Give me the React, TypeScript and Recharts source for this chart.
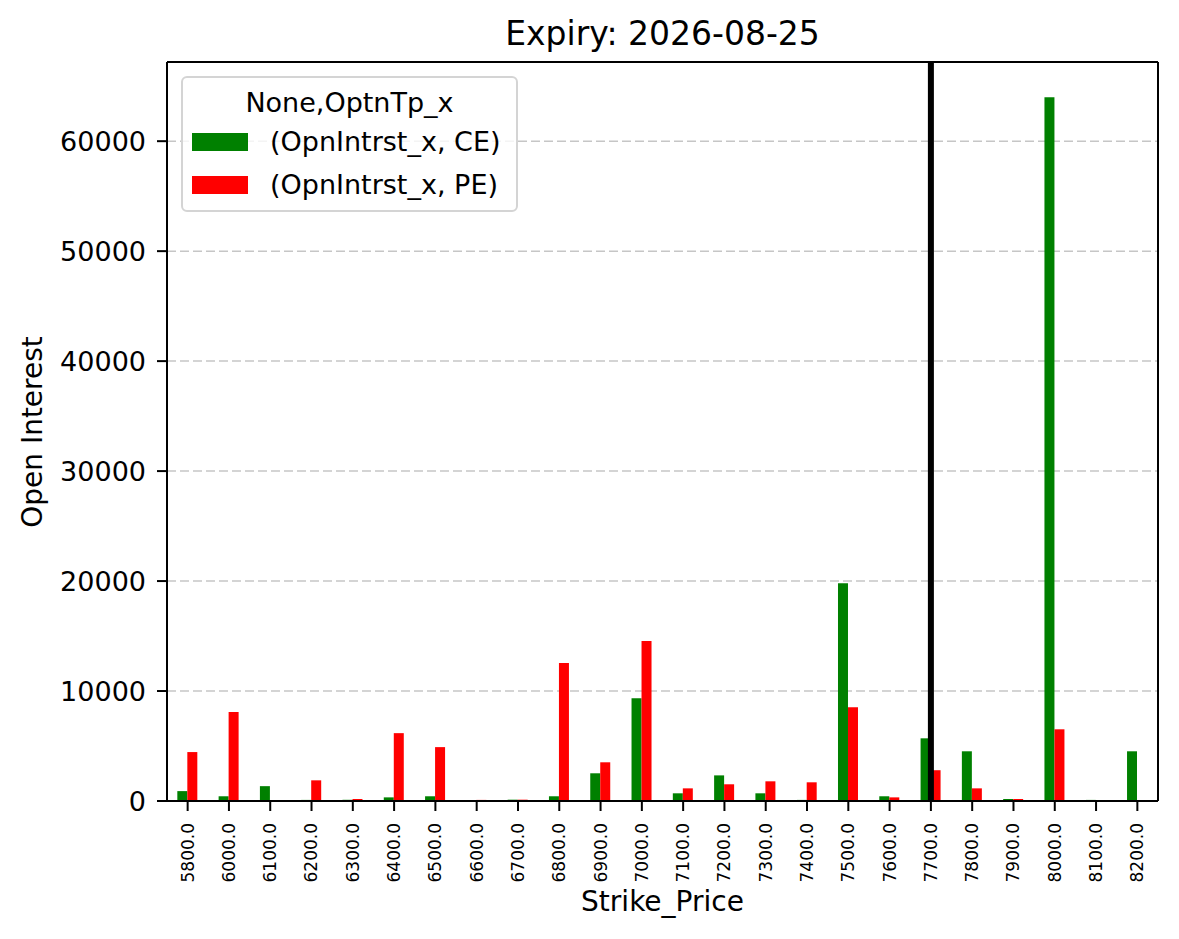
import React from 'react';
import {
  BarChart,
  Bar,
  XAxis,
  YAxis,
  CartesianGrid,
  ReferenceLine,
} from 'recharts';

// Strike prices (categories)
const strikes = [
  '5800.0', '6000.0', '6100.0', '6200.0', '6300.0', '6400.0', '6500.0', '6600.0',
  '6700.0', '6800.0', '6900.0', '7000.0', '7100.0', '7200.0', '7300.0', '7400.0',
  '7500.0', '7600.0', '7700.0', '7800.0', '7900.0', '8000.0', '8100.0', '8200.0',
];

// Open interest, calls
const ceValues = [
  900, 430, 1350, 100, 110, 330, 430, 0,
  120, 430, 2520, 9350, 700, 2330, 700, 100,
  19800, 430, 5700, 4520, 180, 64000, 100, 4520,
];

// Open interest, puts
const peValues = [
  4450, 8100, 0, 1880, 180, 6170, 4900, 100,
  120, 12550, 3520, 14550, 1150, 1520, 1790, 1700,
  8520, 330, 2800, 1150, 180, 6520, 0, 0,
];

const yTicks = [0, 10000, 20000, 30000, 40000, 50000, 60000];
const spotStrike = '7700.0';

const data = strikes.map((s, i) => ({ strike: s, ce: ceValues[i], pe: peValues[i] }));

const FONT = '"DejaVu Sans", sans-serif';

const RotatedTick: React.FC<any> = ({ x, y, payload }) => (
  <g transform={`translate(${x},${y})`}>
    <text
      x={-10}
      y={0}
      dy="0.35em"
      textAnchor="end"
      transform="rotate(-90)"
      fill="#000"
      fontSize={17}
      fontFamily={FONT}
    >
      {payload.value}
    </text>
  </g>
);

const legendItems = [
  { label: '(OpnIntrst_x, CE)', color: '#008000' },
  { label: '(OpnIntrst_x, PE)', color: '#ff0000' },
];

const LegendBox: React.FC = () => (
  <div
    style={{
      position: 'absolute',
      left: 181,
      top: 76,
      width: 333,
      height: 132,
      border: '2px solid #d4d4d4',
      borderRadius: 6,
      background: 'rgba(255,255,255,0.8)',
      fontFamily: FONT,
      fontSize: 27,
      color: '#000',
      zIndex: 2,
    }}
  >
    <div style={{ textAlign: 'center', marginTop: 8, lineHeight: '34px' }}>None,OptnTp_x</div>
    {legendItems.map((e) => (
      <div key={e.label} style={{ display: 'flex', alignItems: 'center', height: 43, marginLeft: 9 }}>
        <span style={{ width: 56, height: 18, background: e.color, display: 'inline-block' }} />
        <span style={{ marginLeft: 22 }}>{e.label}</span>
      </div>
    ))}
  </div>
);

const App: React.FC = () => {
  return (
    <div style={{ position: 'absolute', left: 0, top: 0, width: 1179, height: 939, background: '#fff' }}>
      <div
        style={{
          position: 'absolute', left: 167, width: 991, top: 14, textAlign: 'center',
          fontFamily: FONT, fontSize: 33, lineHeight: '40px', color: '#000',
        }}
      >
        Expiry: 2026-08-25
      </div>
      <div
        style={{
          position: 'absolute', left: 167, width: 991, top: 885, textAlign: 'center',
          fontFamily: FONT, fontSize: 28, lineHeight: '34px', color: '#000',
        }}
      >
        Strike_Price
      </div>
      <div
        style={{
          position: 'absolute', left: 33, top: 432, transform: 'translate(-50%, -50%) rotate(-90deg)',
          fontFamily: FONT, fontSize: 28, lineHeight: '34px', color: '#000', whiteSpace: 'nowrap',
        }}
      >
        Open Interest
      </div>
      <LegendBox />
      <BarChart
        width={1179}
        height={939}
        data={data}
        margin={{ top: 61, right: 20, bottom: 0, left: 0 }}
        barCategoryGap="25%"
        barGap={0}
      >
        <CartesianGrid
          horizontal
          vertical={false}
          stroke="#c6c6c6"
          strokeDasharray="9 4"
          strokeWidth={1.5}
        />
        <XAxis
          dataKey="strike"
          height={138}
          interval={0}
          tick={<RotatedTick />}
          tickSize={10}
          tickLine={{ stroke: '#000', strokeWidth: 2 }}
          axisLine={{ stroke: '#000', strokeWidth: 2 }}
        />
        <XAxis
          xAxisId="top"
          dataKey="strike"
          orientation="top"
          height={1}
          tick={false}
          tickLine={false}
          axisLine={{ stroke: '#000', strokeWidth: 2 }}
        />
        <YAxis
          width={167}
          domain={[0, 67200]}
          ticks={yTicks}
          interval={0}
          tickSize={10}
          tickMargin={11}
          tick={{ fill: '#000', fontSize: 27, fontFamily: FONT }}
          tickLine={{ stroke: '#000', strokeWidth: 2 }}
          axisLine={{ stroke: '#000', strokeWidth: 2 }}
        />
        <YAxis
          yAxisId="right"
          orientation="right"
          width={1}
          domain={[0, 67200]}
          tick={false}
          tickLine={false}
          axisLine={{ stroke: '#000', strokeWidth: 2 }}
        />
        <Bar dataKey="ce" name="(OpnIntrst_x, CE)" fill="#008000" isAnimationActive={false} />
        <Bar dataKey="pe" name="(OpnIntrst_x, PE)" fill="#ff0000" isAnimationActive={false} />
        <ReferenceLine x={spotStrike} stroke="#000" strokeWidth={6} />
      </BarChart>
    </div>
  );
};

export default App;
